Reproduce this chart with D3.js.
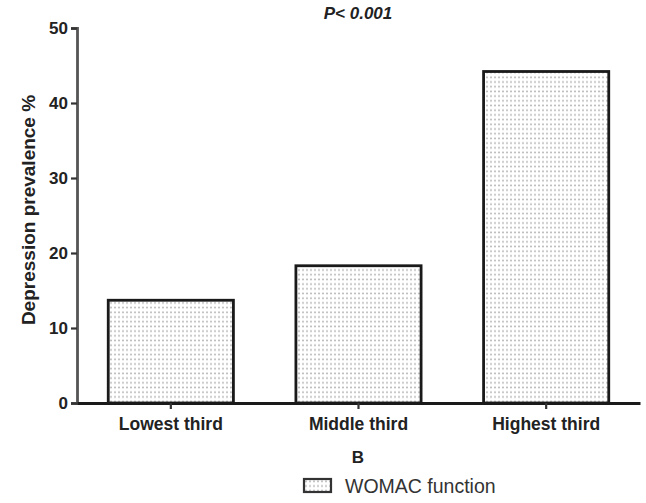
<!DOCTYPE html>
<html>
<head>
<meta charset="utf-8">
<script src="https://cdn.jsdelivr.net/npm/d3@7"></script>
<style>
  body { margin: 0; background: #fff; }
  text { font-family: Arial, "Liberation Sans", sans-serif; }
</style>
</head>
<body>
<svg width="646" height="503"></svg>
<script>
// data
var categories = ["Lowest third", "Middle third", "Highest third"];
var prevalence = [13.7, 18.3, 44.2];
var yTicks = [0, 10, 20, 30, 40, 50];
var seriesName = "WOMAC function";

var svg = d3.select("svg");
var margin = { top: 28, right: 6, bottom: 100, left: 77 };
var width = 646 - margin.left - margin.right;
var height = 503 - margin.top - margin.bottom;

// dotted fill like the original print
var defs = svg.append("defs");
var pat = defs.append("pattern")
    .attr("id", "dots")
    .attr("patternUnits", "userSpaceOnUse")
    .attr("width", 4)
    .attr("height", 4.7);
pat.append("rect").attr("width", 4).attr("height", 4.7).attr("fill", "#fff");
pat.append("rect").attr("x", 1).attr("y", 1.5).attr("width", 2).attr("height", 1.6).attr("fill", "#bdbdbd");

var g = svg.append("g").attr("transform", "translate(" + margin.left + "," + margin.top + ")");

var x = d3.scaleBand().domain(categories).range([0, 563]).paddingInner(0.333).paddingOuter(0.1665);
var y = d3.scaleLinear().domain([0, 50]).range([height, 0]);

// bars
g.selectAll(".bar")
    .data(prevalence)
    .enter().append("rect")
    .attr("class", "bar")
    .attr("x", function(d, i) { return x(categories[i]); })
    .attr("y", function(d) { return y(d); })
    .attr("width", x.bandwidth())
    .attr("height", function(d) { return height - y(d); })
    .style("fill", "url(#dots)")
    .style("stroke", "#1a1a1a")
    .style("stroke-width", 2.8);

// y axis
var yAxis = g.append("g")
    .call(d3.axisLeft(y).tickValues(yTicks).tickSize(6).tickPadding(3));
yAxis.select(".domain").attr("stroke", "#555").attr("stroke-width", 2.8);
yAxis.selectAll(".tick line").attr("stroke", "#333").attr("stroke-width", 2.2);
yAxis.selectAll("text")
    .style("font-size", "17px").style("font-weight", "bold").attr("fill", "#222");

// x axis
var xAxis = g.append("g")
    .attr("transform", "translate(0," + height + ")")
    .call(d3.axisBottom(x).tickSize(6).tickSizeOuter(0).tickPadding(9));
xAxis.select(".domain").attr("stroke", "#1a1a1a").attr("stroke-width", 2.8);
xAxis.selectAll(".tick line").attr("stroke", "#333").attr("stroke-width", 2.2);
xAxis.selectAll("text")
    .style("font-size", "17.5px").style("font-weight", "bold").attr("fill", "#222");

// y label
svg.append("text")
    .attr("transform", "translate(35,210) rotate(-90)")
    .attr("text-anchor", "middle")
    .style("font-size", "19px").style("font-weight", "bold").attr("fill", "#222")
    .text("Depression prevalence %");

// p-value
svg.append("text")
    .attr("x", 358).attr("y", 19)
    .attr("text-anchor", "middle")
    .style("font-size", "17px").style("font-weight", "bold").style("font-style", "italic")
    .attr("fill", "#222")
    .text("P< 0.001");

// panel letter
svg.append("text")
    .attr("x", 358).attr("y", 463)
    .attr("text-anchor", "middle")
    .style("font-size", "17px").style("font-weight", "bold").attr("fill", "#222")
    .text("B");

// legend
var leg = svg.append("g").attr("transform", "translate(304,479)");
leg.append("rect")
    .attr("width", 27).attr("height", 13)
    .style("fill", "url(#dots)").style("stroke", "#333").style("stroke-width", 2.2);
leg.append("text")
    .attr("x", 41).attr("y", 14)
    .style("font-size", "19.5px").attr("fill", "#333")
    .text(seriesName);
</script>
</body>
</html>
